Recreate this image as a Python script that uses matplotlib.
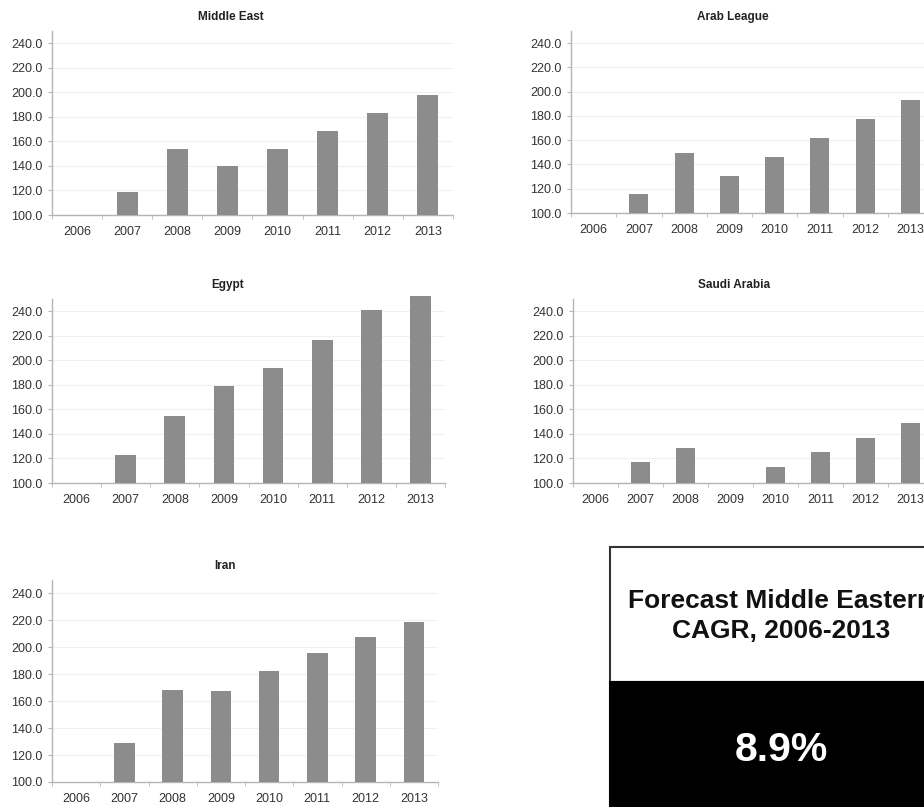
import matplotlib
matplotlib.use("Agg")
import matplotlib.pyplot as plt
from matplotlib.patches import Rectangle

plt.rcParams['font.family'] = ['Liberation Sans', 'DejaVu Sans']

years = ["2006", "2007", "2008", "2009", "2010", "2011", "2012", "2013"]
middle_east = [100, 118.4, 154.2, 139.8, 154.2, 168.8, 183.4, 198.0]
arab_league = [100, 115.9, 149.4, 130.5, 146.1, 161.5, 177.4, 193.1]
egypt = [100, 122.8, 154.4, 178.8, 193.8, 216.3, 241.3, 252.2]
saudi_arabia = [100, 117.1, 128.5, 100, 113.3, 125.3, 136.7, 148.7]
iran = [100, 129.1, 168.4, 167.4, 182.5, 195.6, 207.4, 218.8]
yticks = [100, 120, 140, 160, 180, 200, 220, 240]
cagr_title = "Forecast Middle Eastern\nCAGR, 2006-2013"
cagr_value = "8.9%"

W, H = 924, 807
fig = plt.figure(figsize=(W / 100, H / 100), dpi=100)


def px_axes(x0, x1, ytop, ybot):
    return fig.add_axes([x0 / W, 1 - ybot / H, (x1 - x0) / W, (ybot - ytop) / H])


panels = [
    ("Middle East", middle_east, (52, 453, 31, 215)),
    ("Arab League", arab_league, (571, 933, 31, 213)),
    ("Egypt", egypt, (52, 445, 299, 483)),
    ("Saudi Arabia", saudi_arabia, (573, 933, 299, 483)),
    ("Iran", iran, (52, 438, 580, 782)),
]

bar_color = "#8c8c8c"
axis_color = "#b5b5b5"
text_color = "#333333"

for title, vals, box in panels:
    ax = px_axes(*box)
    xs = list(range(len(years)))
    base = 100
    ax.bar(xs, [v - base for v in vals], bottom=base, width=0.42,
           color=bar_color, edgecolor="none", zorder=3, clip_on=False)
    ax.set_xlim(-0.5, len(years) - 0.5)
    ax.set_ylim(100, 250)
    ax.set_yticks(yticks)
    ax.set_yticklabels([f"{t:.1f}" for t in yticks])
    ax.set_xticks(xs)
    ax.set_xticklabels(years)
    ax.set_xticks([i - 0.5 for i in range(len(years) + 1)], minor=True)
    ax.tick_params(axis="x", which="major", length=0, pad=8,
                   labelsize=9, labelcolor=text_color)
    ax.tick_params(axis="x", which="minor", length=3, color=axis_color,
                   direction="out")
    ax.tick_params(axis="y", length=3, color=axis_color, pad=4,
                   labelsize=9, labelcolor=text_color)
    for s in ("top", "right"):
        ax.spines[s].set_visible(False)
    for s in ("left", "bottom"):
        ax.spines[s].set_color(axis_color)
        ax.spines[s].set_linewidth(1.0)
    ax.grid(axis="y", color="#f0f0f0", linewidth=0.8, zorder=0)
    ax.set_axisbelow(True)
    ax.set_title(title, fontsize=8.5, fontweight="bold", color="#222222",
                 x=0.447, pad=8)

# CAGR box
bx = px_axes(610, 952, 547, 830)
bx.set_xlim(0, 1)
bx.set_ylim(0, 1)
bx.axis("off")
split = (830 - 682) / (830 - 547)
bx.add_patch(Rectangle((0, split), 1, 1 - split, facecolor="white",
                       edgecolor="#333333", linewidth=1.5, clip_on=False))
bx.add_patch(Rectangle((0, 0), 1, split, facecolor="black",
                       edgecolor="black", linewidth=1.5, clip_on=False))
bx.text(0.5, (830 - 616) / (830 - 547), cagr_title, ha="center", va="center",
        fontsize=19, fontweight="bold", color="#111111", linespacing=1.3)
bx.text(0.5, (830 - 750) / (830 - 547), cagr_value, ha="center", va="center",
        fontsize=29.5, fontweight="bold", color="white")

fig.savefig("out.png", dpi=100)
